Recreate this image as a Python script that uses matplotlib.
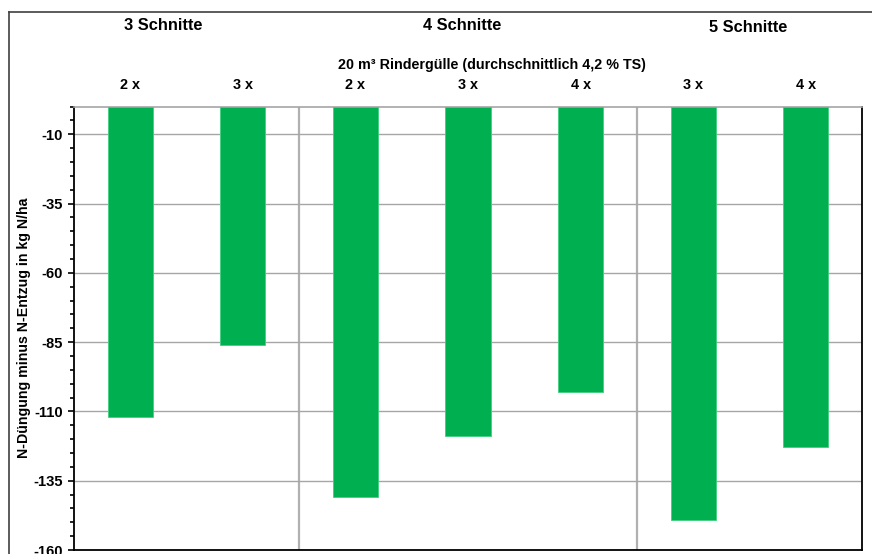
import matplotlib
matplotlib.use("Agg")
import matplotlib.pyplot as plt
from matplotlib.ticker import MultipleLocator, FixedLocator
from matplotlib.lines import Line2D

plt.rcParams['font.family'] = ['Liberation Sans', 'DejaVu Sans']
plt.rcParams['font.weight'] = 'bold'

# ---- data ----
categories = ["2 x", "3 x", "2 x", "3 x", "4 x", "3 x", "4 x"]
values = [-112, -86, -141, -119, -103, -149, -123]
groups = ["3 Schnitte", "4 Schnitte", "5 Schnitte"]
subtitle = "20 m³ Rindergülle (durchschnittlich 4,2 % TS)"
ylabel = "N-Düngung minus N-Entzug in kg N/ha"
yticks = [-10, -35, -60, -85, -110, -135, -160]

W, H = 872, 554
fig = plt.figure(figsize=(W / 100, H / 100), dpi=100)
ax = fig.add_axes([74 / W, 1 - 550 / H, (862 - 74) / W, (550 - 106.5) / H])

x = list(range(len(categories)))
ax.bar(x, values, width=0.40, color="#00B050", edgecolor="#3fcf7f", linewidth=0.6, zorder=3)

ax.set_xlim(-0.5, len(categories) - 0.5)
ax.set_ylim(-160, 0)
ax.yaxis.set_major_locator(FixedLocator(yticks))
ax.yaxis.set_minor_locator(MultipleLocator(5))
ax.set_yticklabels([str(t) for t in yticks], fontsize=10.6, fontweight='bold')
ax.tick_params(axis='y', which='major', direction='out', length=4, width=1.2, pad=4)
ax.tick_params(axis='y', which='minor', direction='out', length=3, width=1.2)
ax.set_xticks([])
ax.grid(axis='y', which='major', color='#a6a6a6', linewidth=1.0, zorder=1)

# group separators
for sep in (1.5, 4.5):
    ax.axvline(sep, color='#b0b0b0', linewidth=1.6, zorder=1)

for s in ('left', 'bottom', 'right'):
    ax.spines[s].set_color('black')
    ax.spines[s].set_linewidth(1.3)
ax.spines['top'].set_color('#a6a6a6')
ax.spines['top'].set_linewidth(1.2)

ax.set_ylabel(ylabel, fontsize=10.2, fontweight='bold', labelpad=2)

# category labels above the plot
axh = 550 - 106.5
for xi, lab in zip(x, categories):
    ax.text(xi, 1 + 21.5 / axh, lab, transform=ax.get_xaxis_transform(),
            ha='center', va='center', fontsize=10.4, fontweight='bold')

ax.text(3.21, 1 + 41.5 / axh, subtitle, transform=ax.get_xaxis_transform(),
        ha='center', va='center', fontsize=10.3, fontweight='bold')

group_x = [0.29, 2.95, 5.49]
group_y = [25, 25, 27]
for gx, gy, g in zip(group_x, group_y, groups):
    ax.text(gx, 1 + (106.5 - gy) / axh, g, transform=ax.get_xaxis_transform(),
            ha='center', va='center', fontsize=11.8, fontweight='bold')

# outer chart frame
fig.add_artist(Line2D([9 / W, 9 / W], [0, 1 - 12 / H], color='#404040', linewidth=1.2, transform=fig.transFigure))
fig.add_artist(Line2D([9 / W, 1], [1 - 12 / H, 1 - 12 / H], color='#404040', linewidth=1.2, transform=fig.transFigure))

fig.savefig("out.png", dpi=100)
